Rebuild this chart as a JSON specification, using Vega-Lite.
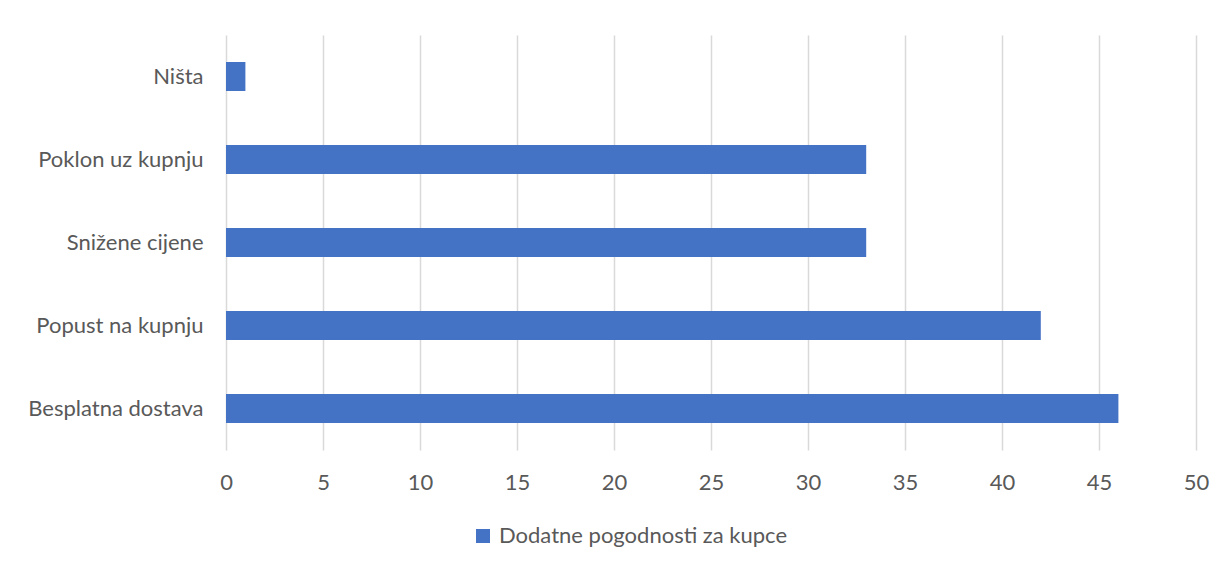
{
  "$schema": "https://vega.github.io/schema/vega-lite/v6.json",
  "autosize": {"type": "none"},
  "width": 970,
  "height": 415,
  "padding": {"left": 226, "top": 35, "right": 34, "bottom": 119},
  "background": "white",
  "data": {"values": [
    {"kategorija": "Ništa", "vrijednost": 1, "serija": "Dodatne pogodnosti za kupce"},
    {"kategorija": "Poklon uz kupnju", "vrijednost": 33, "serija": "Dodatne pogodnosti za kupce"},
    {"kategorija": "Snižene cijene", "vrijednost": 33, "serija": "Dodatne pogodnosti za kupce"},
    {"kategorija": "Popust na kupnju", "vrijednost": 42, "serija": "Dodatne pogodnosti za kupce"},
    {"kategorija": "Besplatna dostava", "vrijednost": 46, "serija": "Dodatne pogodnosti za kupce"}
  ]},
  "mark": {"type": "bar", "color": "#4472c4"},
  "encoding": {
    "y": {
      "field": "kategorija", "type": "nominal", "sort": null,
      "scale": {"paddingInner": 0.65, "paddingOuter": 0.325},
      "axis": {"title": null, "domain": false, "ticks": false, "labelPadding": 23, "labelFontSize": 22, "labelFont": "Lato", "labelColor": "#595959", "labelLimit": 300}
    },
    "x": {
      "field": "vrijednost", "type": "quantitative",
      "scale": {"domain": [0, 50], "nice": false},
      "axis": {"title": null, "values": [0,5,10,15,20,25,30,35,40,45,50], "domain": false, "ticks": false, "labelFlush": false, "labelPadding": 22, "labelFontSize": 22, "labelFont": "Lato", "labelColor": "#595959", "grid": true, "gridColor": "#d9d9d9", "gridWidth": 1.5}
    },
    "color": {
      "field": "serija", "type": "nominal",
      "scale": {"range": ["#4472c4"]},
      "legend": {"title": null, "orient": "none", "legendX": 246, "legendY": 490, "symbolType": "square", "symbolSize": 196, "symbolStrokeWidth": 0, "labelFontSize": 22, "labelFont": "Lato", "labelColor": "#595959", "labelOffset": 5, "labelLimit": 500}
    }
  },
  "config": {"view": {"stroke": null}}
}
